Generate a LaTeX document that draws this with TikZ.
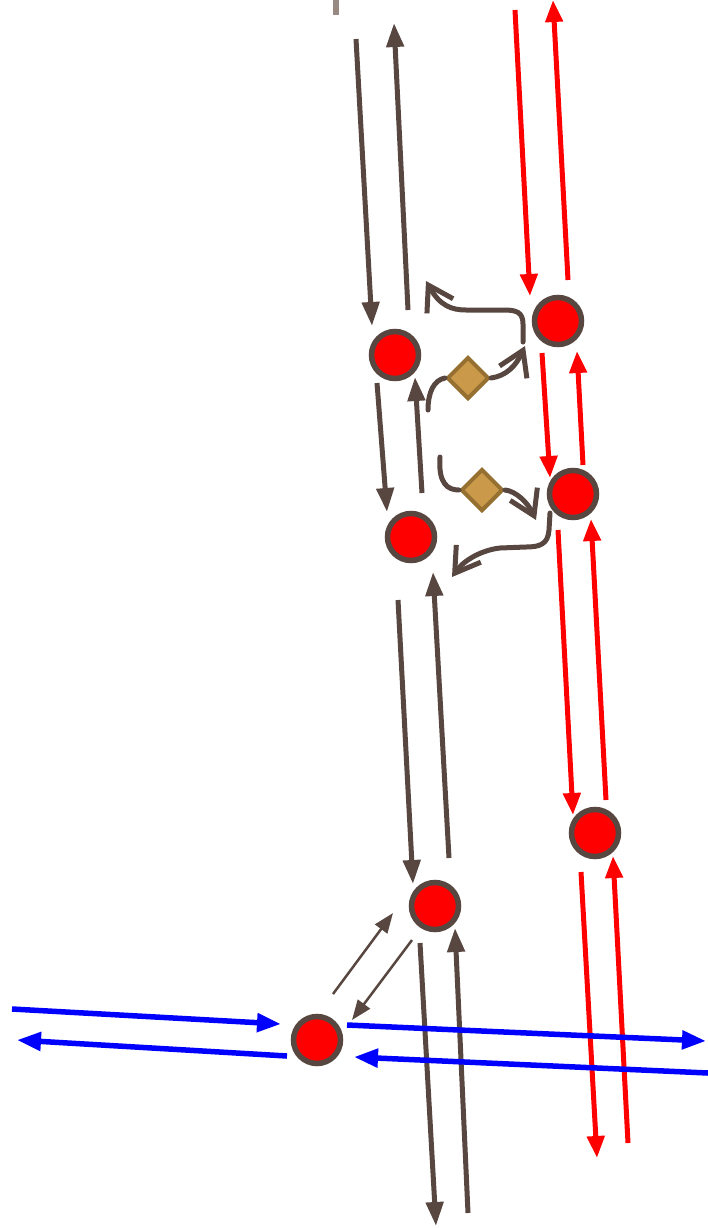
\documentclass[tikz,border=0pt]{standalone}
\usetikzlibrary{arrows.meta,shapes.geometric}
\definecolor{wall}{RGB}{87,71,64}
\definecolor{stub}{RGB}{152,138,130}
\definecolor{ochre}{RGB}{202,153,74}
\definecolor{ochreedge}{RGB}{150,112,48}
\tikzset{
  stop/.style={circle,draw=wall,fill=red,line width=5.5bp,minimum size=47bp,inner sep=0pt},
  signal/.style={diamond,draw=ochreedge,fill=ochre,line width=4bp,minimum size=42bp,inner sep=0pt},
  trackbrown/.style={draw=wall,line width=5bp,-{Triangle[length=24bp,width=17bp]}},
  trackred/.style={draw=red,line width=5bp,-{Triangle[length=22bp,width=17bp]}},
  trackblue/.style={draw=blue,line width=5.5bp,-{Triangle[length=24bp,width=18bp]}},
  link/.style={draw=wall,line width=2.5bp,-{Triangle[length=20bp,width=15bp]}},
  turn/.style={draw=wall,line width=5bp,line cap=round,-{Straight Barb[length=24bp,width=30bp]}},
  plain/.style={draw=wall,line width=5bp,line cap=round}
}
\begin{document}
\begin{tikzpicture}[x=1bp,y=-1bp]
\useasboundingbox (0,0) rectangle (708,1228);

% stations
\node[stop] (A) at (395,355) {};
\node[stop] (B) at (558,321) {};
\node[stop] (C) at (411,537) {};
\node[stop] (D) at (573,494) {};
\node[stop] (E) at (595,833) {};
\node[stop] (F) at (435,906) {};
\node[stop] (G) at (317,1040) {};

% switch signals
\node[signal] (S1) at (468,378) {};
\node[signal] (S2) at (482,490) {};

% short stub at the top
\coordinate (stubA) at (336,0);
\coordinate (stubB) at (336,15);
\draw[stub,line width=6bp] (stubA) -- (stubB);

% brown line, top segment
\coordinate (b1s) at (356,39);  \coordinate (b1e) at (372,326);
\coordinate (b2s) at (408,310); \coordinate (b2e) at (394,23);
\draw[trackbrown] (b1s) -- (b1e);
\draw[trackbrown] (b2s) -- (b2e);
% A -- C
\coordinate (b3s) at (377,383); \coordinate (b3e) at (387,512);
\coordinate (b4s) at (422,493); \coordinate (b4e) at (415,377);
\draw[trackbrown] (b3s) -- (b3e);
\draw[trackbrown] (b4s) -- (b4e);
% C -- F
\coordinate (b5s) at (398,600); \coordinate (b5e) at (413,884);
\coordinate (b6s) at (449,858); \coordinate (b6e) at (433,572);
\draw[trackbrown] (b5s) -- (b5e);
\draw[trackbrown] (b6s) -- (b6e);
% below F
\coordinate (b7s) at (420,943); \coordinate (b7e) at (436,1226);
\coordinate (b8s) at (468,1213); \coordinate (b8e) at (455,928);
\draw[trackbrown] (b7s) -- (b7e);
\draw[trackbrown] (b8s) -- (b8e);
% F -- G transfer
\coordinate (t1s) at (333,994); \coordinate (t1e) at (393,913);
\coordinate (t2s) at (412,940); \coordinate (t2e) at (352,1020);
\draw[link] (t1s) -- (t1e);
\draw[link] (t2s) -- (t2e);

% red line
\coordinate (r1s) at (515,10);  \coordinate (r1e) at (530,296);
\coordinate (r2s) at (568,280); \coordinate (r2e) at (553,0);
\draw[trackred] (r1s) -- (r1e);
\draw[trackred] (r2s) -- (r2e);
\coordinate (r3s) at (542,353); \coordinate (r3e) at (550,478);
\coordinate (r4s) at (583,465); \coordinate (r4e) at (577,351);
\draw[trackred] (r3s) -- (r3e);
\draw[trackred] (r4s) -- (r4e);
\coordinate (r5s) at (558,530); \coordinate (r5e) at (573,815);
\coordinate (r6s) at (606,800); \coordinate (r6e) at (591,519);
\draw[trackred] (r5s) -- (r5e);
\draw[trackred] (r6s) -- (r6e);
\coordinate (r7s) at (581,872); \coordinate (r7e) at (597,1158);
\coordinate (r8s) at (628,1143); \coordinate (r8e) at (613,856);
\draw[trackred] (r7s) -- (r7e);
\draw[trackred] (r8s) -- (r8e);

% crossover moves between the two lines
\coordinate (c1s) at (523,342); \coordinate (c1e) at (426,281);
\draw[turn] (c1s) -- (523,324) .. controls (523,312) and (516,310) .. (504,310)
  -- (466,310) .. controls (452,310) and (440,306) .. (c1e);
\coordinate (c2s) at (428,410); \coordinate (c2e) at (525,346);
\draw[plain] (c2s) .. controls (428,392) and (434,380) .. (S1.west);
\draw[turn] (S1.east) .. controls (506,376) and (516,366) .. (c2e);
\coordinate (c3s) at (440,457); \coordinate (c3e) at (536,520);
\draw[plain] (c3s) .. controls (438,484) and (448,490) .. (S2.west);
\draw[turn] (S2.east) .. controls (516,491) and (528,503) .. (c3e);
\coordinate (c4s) at (550,513); \coordinate (c4e) at (452,577);
\draw[turn] (c4s) -- (549,530) .. controls (548,544) and (540,547) .. (526,547)
  -- (500,548) .. controls (482,550) and (464,560) .. (c4e);

% blue line
\coordinate (u1s) at (12,1009);  \coordinate (u1e) at (281,1024);
\coordinate (u2s) at (287,1056); \coordinate (u2e) at (17,1040);
\coordinate (u3s) at (347,1025); \coordinate (u3e) at (706,1041);
\coordinate (u4s) at (708,1073); \coordinate (u4e) at (354,1057);
\draw[trackblue] (u1s) -- (u1e);
\draw[trackblue] (u2s) -- (u2e);
\draw[trackblue] (u3s) -- (u3e);
\draw[trackblue] (u4s) -- (u4e);
\end{tikzpicture}
\end{document}
